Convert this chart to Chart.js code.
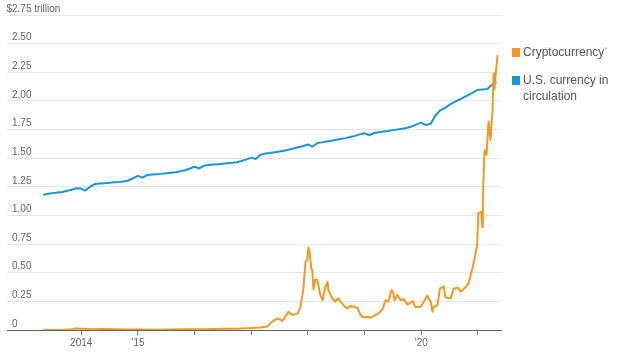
<!DOCTYPE html>
<html><head><meta charset="utf-8">
<script src="https://cdn.jsdelivr.net/npm/chart.js@4/dist/chart.umd.min.js"></script>
<style>
html,body{margin:0;padding:0;background:#fff;}
#wrap{position:relative;width:624px;height:357px;}
#legend{position:absolute;left:512px;top:44px;font-family:"Liberation Sans",Arial,sans-serif;font-size:12px;color:#555;line-height:16px;}
.item{position:relative;padding-left:11px;margin-bottom:12px;}
.sw{position:absolute;left:0;top:4px;width:8px;height:9px;}
sup{font-size:7px;color:#999;vertical-align:top;position:relative;top:-2px;}
</style></head>
<body><div id="wrap"><canvas id="c" width="624" height="357"></canvas>
<div id="legend">
<div class="item"><span class="sw" style="background:#f7981d"></span>Cryptocurrency<sup>*</sup></div>
<div class="item"><span class="sw" style="background:#1697d6"></span>U.S. currency in<br>circulation</div>
</div></div>
<script>
// x ticks (years) and labels
const yearTicks = [2014, 2015, 2016, 2017, 2018, 2019, 2020, 2021];
const yearLabels = {2014: '2014', 2015: '\u201915', 2020: '\u201920'};
const yTickTop = 2.75;

// U.S. currency in circulation, $ trillion (decimal year / value)
const usdT = [2013.33,2013.42,2013.5,2013.58,2013.67,2013.75,2013.83,2013.92,2014.0,2014.07,2014.17,2014.25,2014.33,2014.42,2014.5,2014.58,2014.67,2014.75,2014.83,2014.92,
2015.0,2015.08,2015.17,2015.25,2015.33,2015.42,2015.5,2015.58,2015.67,2015.75,2015.83,2015.92,
2016.0,2016.08,2016.17,2016.25,2016.33,2016.42,2016.5,2016.58,2016.67,2016.75,2016.83,2016.92,
2017.0,2017.08,2017.17,2017.25,2017.33,2017.42,2017.5,2017.58,2017.67,2017.75,2017.83,2017.92,
2018.0,2018.08,2018.17,2018.25,2018.33,2018.42,2018.5,2018.58,2018.67,2018.75,2018.83,2018.92,
2019.0,2019.08,2019.17,2019.25,2019.33,2019.42,2019.5,2019.58,2019.67,2019.75,2019.83,2019.92,
2020.0,2020.08,2020.17,2020.25,2020.33,2020.42,2020.5,2020.58,2020.67,2020.75,2020.83,2020.92,
2021.0,2021.08,2021.17,2021.25,2021.33];
const usdV = [1.18,1.19,1.195,1.20,1.205,1.215,1.225,1.237,1.235,1.217,1.255,1.275,1.278,1.282,1.285,1.29,1.293,1.297,1.305,1.325,
1.345,1.33,1.354,1.357,1.36,1.363,1.368,1.372,1.377,1.385,1.395,1.41,
1.426,1.41,1.435,1.44,1.445,1.448,1.452,1.456,1.46,1.465,1.475,1.49,
1.505,1.493,1.53,1.54,1.545,1.552,1.558,1.565,1.575,1.585,1.595,1.607,
1.62,1.60,1.632,1.638,1.645,1.652,1.66,1.668,1.675,1.685,1.695,1.708,
1.718,1.70,1.72,1.726,1.732,1.738,1.745,1.75,1.757,1.765,1.776,1.795,
1.81,1.79,1.80,1.87,1.915,1.94,1.965,1.99,2.01,2.03,2.05,2.075,
2.096,2.10,2.105,2.14,2.163];

// Cryptocurrency market value, $ trillion
const cryptoT = [2013.33,2013.5,2013.7,2013.85,2013.92,2013.96,2014.05,2014.2,2014.4,2014.6,2014.8,2015.0,2015.3,2015.6,2015.9,2016.2,2016.5,2016.8,2017.0,2017.15,
2017.29,2017.34,2017.42,2017.46,2017.51,2017.55,2017.62,2017.66,2017.73,2017.82,2017.87,2017.92,2017.96,2017.99,2018.01,2018.03,2018.06,2018.08,2018.10,2018.13,
2018.17,2018.22,2018.26,2018.31,2018.35,2018.36,2018.43,2018.49,2018.54,2018.58,2018.66,2018.70,2018.75,2018.84,2018.88,2018.93,2018.98,2019.05,2019.11,2019.19,
2019.25,2019.32,2019.37,2019.42,2019.48,2019.51,2019.53,2019.58,2019.64,2019.69,2019.76,2019.85,2019.90,2019.99,2020.04,2020.11,2020.17,2020.20,2020.22,2020.29,
2020.33,2020.40,2020.43,2020.52,2020.57,2020.65,2020.70,2020.78,2020.84,2020.91,2020.94,2020.99,2021.01,2021.06,2021.08,2021.09,2021.10,2021.12,2021.155,2021.19,
2021.225,2021.26,2021.28,2021.295,2021.315,2021.35];
const cryptoV = [0.002,0.001,0.002,0.006,0.015,0.012,0.011,0.007,0.008,0.007,0.005,0.004,0.003,0.004,0.006,0.007,0.011,0.012,0.017,0.022,
0.03,0.06,0.09,0.10,0.09,0.08,0.13,0.16,0.13,0.145,0.20,0.35,0.60,0.61,0.72,0.68,0.54,0.52,0.355,0.44,
0.437,0.306,0.26,0.378,0.42,0.35,0.277,0.247,0.277,0.247,0.20,0.19,0.21,0.20,0.19,0.13,0.11,0.115,0.107,0.13,
0.145,0.18,0.26,0.247,0.35,0.32,0.26,0.306,0.26,0.27,0.22,0.253,0.20,0.20,0.24,0.30,0.247,0.16,0.20,0.22,
0.36,0.38,0.285,0.275,0.36,0.37,0.335,0.37,0.41,0.55,0.61,0.75,1.02,1.03,0.90,1.13,1.30,1.57,1.53,1.82,
1.66,1.91,2.24,2.10,2.23,2.40];

const FONT = '"Liberation Sans", Arial, sans-serif';

const dollarPlugin = {
  id: 'dollar',
  afterDraw(chart) {
    const y = chart.scales.y;
    const ctx = chart.ctx;
    ctx.save();
    ctx.font = '10px ' + FONT;
    ctx.fillStyle = '#666';
    ctx.textAlign = 'right';
    ctx.textBaseline = 'middle';
    ctx.fillText('$', chart.chartArea.left + 5, y.getPixelForValue(yTickTop) - 6);
    ctx.restore();
  }
};

new Chart(document.getElementById('c'), {
  type: 'line',
  data: {
    datasets: [
      { label: 'Cryptocurrency', data: cryptoT.map((t, i) => ({x: t, y: cryptoV[i]})),
        borderColor: '#f7981d', borderWidth: 2, pointRadius: 0, tension: 0, borderJoinStyle: 'round' },
      { label: 'U.S. currency in circulation', data: usdT.map((t, i) => ({x: t, y: usdV[i]})),
        borderColor: '#1697d6', borderWidth: 2, pointRadius: 0, tension: 0, borderJoinStyle: 'round' }
    ]
  },
  options: {
    responsive: false, animation: false,
    layout: { padding: { left: 7, right: 123, top: 15, bottom: 0 } },
    plugins: { legend: { display: false }, tooltip: { enabled: false } },
    scales: {
      x: {
        type: 'linear', min: 2012.69, max: 2021.41,
        afterBuildTicks: s => { s.ticks = yearTicks.map(v => ({value: v})); },
        afterFit: s => { s.height = 27; },
        grid: { drawOnChartArea: false, drawTicks: true, tickLength: 5, color: '#777' },
        border: { display: true, color: '#666', width: 1 },
        ticks: { autoSkip: false, maxRotation: 0, padding: 2, color: '#666', font: { family: FONT, size: 10 },
          callback: v => yearLabels[v] || '' }
      },
      y: {
        min: 0, max: 2.75,
        afterBuildTicks: s => { const a = []; for (let i = 0; i <= 11; i++) a.push({value: i * 0.25}); s.ticks = a; },
        afterFit: s => { s.width = 0; },
        grid: { color: '#e6e6e6', drawTicks: false, lineWidth: 1 },
        border: { display: false },
        ticks: { mirror: true, padding: 5, labelOffset: -6, color: '#666', font: { family: FONT, size: 10 },
          callback: v => v === 0 ? '0' : (Math.abs(v - yTickTop) < 1e-9 ? '2.75 trillion' : v.toFixed(2)) }
      }
    }
  },
  plugins: [dollarPlugin]
});
</script></body></html>
